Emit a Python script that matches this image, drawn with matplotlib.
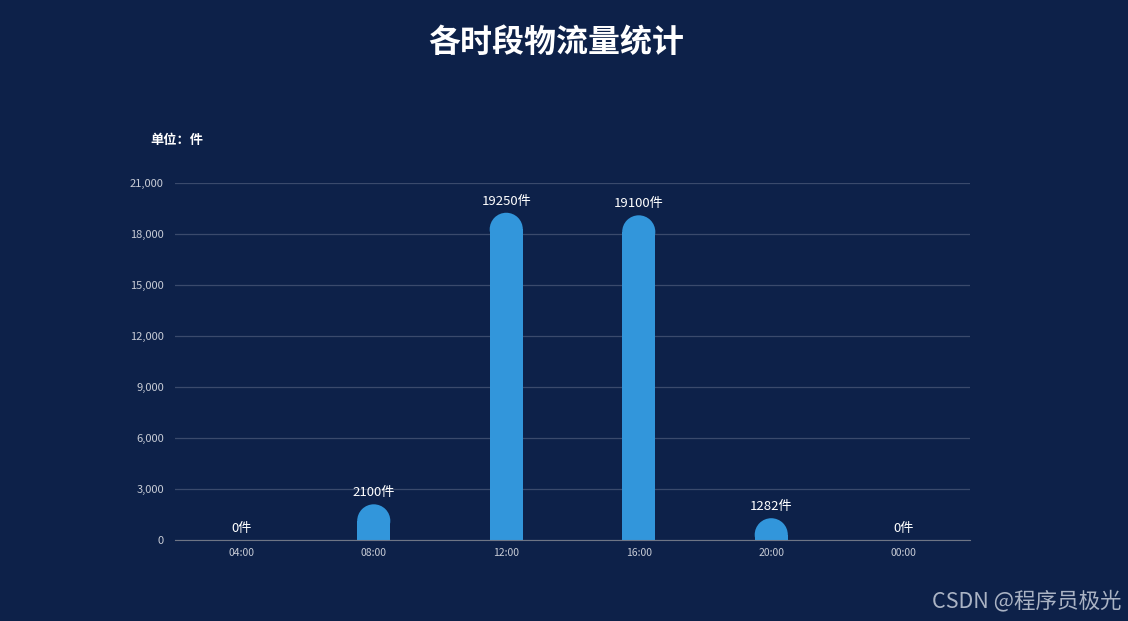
import matplotlib
matplotlib.use('Agg')
import matplotlib.pyplot as plt
from matplotlib.patches import Ellipse

plt.rcParams['font.family'] = ['Noto Sans CJK SC', 'DejaVu Sans']

hours = ['04:00', '08:00', '12:00', '16:00', '20:00', '00:00']
counts = [0, 2100, 19250, 19100, 1282, 0]
yticks = [0, 3000, 6000, 9000, 12000, 15000, 18000, 21000]

bg = '#0d2149'
bar_color = '#3296db'

W, H = 1128, 621
fig = plt.figure(figsize=(W / 100, H / 100), dpi=100, facecolor=bg)
ax = fig.add_axes([175 / W, (H - 540) / H, 795 / W, 357 / H])
ax.set_facecolor(bg)

x = list(range(len(hours)))
ax.set_xlim(-0.5, len(hours) - 0.5)
ax.set_ylim(0, 21000)

# rounded top: semicircle of radius half the bar width (in pixels)
bw = 0.25
r_px = bw / 6 * 795 / 2
ry = r_px * 21000 / 357
px = 21000 / 357
for xi, v in zip(x, counts):
    if v > 0:
        ax.bar(xi, v - ry, width=bw, bottom=0, color=bar_color, zorder=3)
        ax.add_patch(Ellipse((xi, v - ry), bw, 2 * ry, color=bar_color, zorder=3, lw=0))
    ax.text(xi, v + 5 * px, f'{v}件', color='white', fontsize=9.5,
            ha='center', va='bottom', zorder=4)

ax.set_yticks(yticks)
ax.set_yticklabels([f'{t:,}' for t in yticks])
ax.set_xticks(x)
ax.set_xticklabels(hours)
ax.tick_params(axis='both', length=0, colors='#c8ccd6')
ax.tick_params(axis='y', pad=8, labelsize=8)
ax.tick_params(axis='x', pad=6, labelsize=7.5)
ax.grid(axis='y', color='#3a4a6c', lw=0.9, zorder=0)
for s in ['top', 'right', 'left']:
    ax.spines[s].set_visible(False)
ax.spines['bottom'].set_color('#6e7585')
ax.spines['bottom'].set_zorder(5)

fig.text(556 / W, 1 - 43 / H, '各时段物流量统计', color='white', fontsize=23,
         fontweight='bold', ha='center', va='center')
fig.text(150 / W, 1 - 140 / H, '单位：件', color='white', fontsize=9.5,
         fontweight='bold', ha='left', va='center')
fig.text(1122 / W, 1 - 601 / H, 'CSDN @程序员极光', color='#aab3c4', fontsize=15.5,
         ha='right', va='center')

fig.savefig('out.png', dpi=100, facecolor=bg)
